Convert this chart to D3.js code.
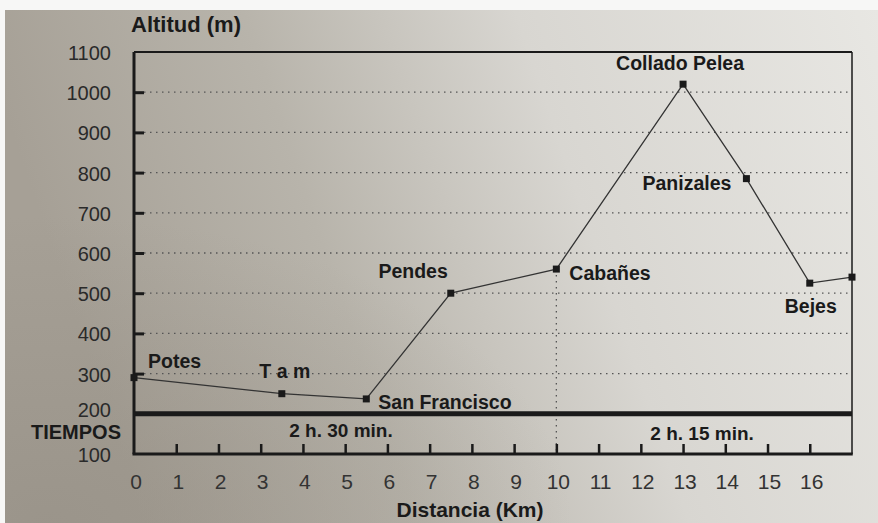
<!DOCTYPE html>
<html><head><meta charset="utf-8">
<script src="https://cdn.jsdelivr.net/npm/d3@7"></script>
<style>body{margin:0;padding:0;overflow:hidden}svg{display:block}text{font-family:"Liberation Sans",Arial,sans-serif}</style>
</head><body>
<script>
const places = ["Potes","T a m","San Francisco","Pendes","Cabañes","Collado Pelea","Panizales","Bejes",""];
const distKm = [0,3.5,5.5,7.5,10,13,14.5,16,17];
const altitude = [290,250,237,500,560,1020,785,525,540];
const yTicks = [100,200,300,400,500,600,700,800,900,1000,1100];
const xTicks = [0,1,2,3,4,5,6,7,8,9,10,11,12,13,14,15,16];
const times = ["2 h. 30 min.","2 h. 15 min."];
const timeAtKm = [4.9,13.45];

const W=878,H=523;
const svg=d3.select("body").append("svg").attr("width",W).attr("height",H);
const defs=svg.append("defs");
const g1=defs.append("linearGradient").attr("id","bg").attr("x1","0").attr("x2","1").attr("y1","0.2").attr("y2","0");
[[0,"#a6a096"],[0.3,"#b8b4ab"],[0.6,"#d8d6d1"],[1,"#e8e7e3"]].forEach(s=>g1.append("stop").attr("offset",s[0]).attr("stop-color",s[1]));
const g2=defs.append("radialGradient").attr("id","shade").attr("cx","0.05").attr("cy","1").attr("r","0.6");
g2.append("stop").attr("offset",0).attr("stop-color","#8f897f").attr("stop-opacity",0.5);
g2.append("stop").attr("offset",1).attr("stop-color","#8f897f").attr("stop-opacity",0);
svg.append("rect").attr("width",W).attr("height",H).attr("fill","#f7f7f6");
svg.append("rect").attr("x",5).attr("y",10).attr("width",W-5).attr("height",H-10).attr("fill","url(#bg)");
svg.append("rect").attr("x",5).attr("y",10).attr("width",W-5).attr("height",H-10).attr("fill","url(#shade)");

const x=d3.scaleLinear().domain([0,17]).range([134,852]);
const y=d3.scaleLinear().domain([100,1100]).range([454,52]);
const ink="#1a1a1a";

// dotted gridlines
svg.append("g").selectAll("line").data(yTicks.filter(v=>v>=300&&v<=1000)).join("line")
 .attr("x1",x(0)+10).attr("x2",x(17)).attr("y1",d=>y(d)).attr("y2",d=>y(d))
 .attr("stroke","#555").attr("stroke-width",1.3).attr("stroke-dasharray","1.5,4.5");
// vertical dotted line at 10 km
svg.append("line").attr("x1",x(10)).attr("x2",x(10)).attr("y1",y(560)).attr("y2",y(100))
 .attr("stroke","#555").attr("stroke-width",1.3).attr("stroke-dasharray","1.5,4.5");

// left axis
const yAxis=d3.axisRight(y).tickValues(yTicks.filter(v=>v>=300&&v<=1000)).tickSize(10).tickFormat("");
const ya=svg.append("g").attr("transform",`translate(${x(0)},0)`).call(yAxis);
ya.select(".domain").remove();
ya.selectAll("line").attr("stroke",ink).attr("stroke-width",3);
svg.append("line").attr("x1",x(0)).attr("x2",x(0)).attr("y1",y(1100)).attr("y2",y(100)).attr("stroke",ink).attr("stroke-width",3);
// y labels
const labelDy = v => v===200 ? 3 : v===100 ? 8 : 8;
svg.append("g").selectAll("text").data(yTicks).join("text")
 .attr("x",111).attr("y",d=>y(d)+labelDy(d)).attr("text-anchor","end").attr("font-size",20).attr("fill","#2a2a2a").text(d=>d);

// frame top, right
svg.append("line").attr("x1",x(0)).attr("x2",x(17)).attr("y1",y(1100)).attr("y2",y(1100)).attr("stroke",ink).attr("stroke-width",2);
svg.append("line").attr("x1",x(17)).attr("x2",x(17)).attr("y1",y(1100)).attr("y2",y(100)).attr("stroke",ink).attr("stroke-width",1.5);
// thick 200 line
svg.append("line").attr("x1",x(0)).attr("x2",x(17)).attr("y1",y(200)).attr("y2",y(200)).attr("stroke",ink).attr("stroke-width",5);

// bottom axis
const xAxis=d3.axisTop(x).tickValues(xTicks.slice(1)).tickSize(10).tickFormat("");
const xa=svg.append("g").attr("transform",`translate(0,${y(100)})`).call(xAxis);
xa.select(".domain").remove();
xa.selectAll("line").attr("stroke",ink).attr("stroke-width",2.5);
svg.append("line").attr("x1",x(0)-1.5).attr("x2",x(17)+0.75).attr("y1",y(100)).attr("y2",y(100)).attr("stroke",ink).attr("stroke-width",3);
svg.append("g").selectAll("text").data(xTicks).join("text")
 .attr("x",d=>x(d)+2).attr("y",489).attr("text-anchor","middle").attr("font-size",21).attr("fill","#333").text(d=>d);

// titles
svg.append("text").attr("x",131).attr("y",32).attr("font-size",22).attr("font-weight","bold").attr("fill",ink).text("Altitud (m)");
svg.append("text").attr("x",121).attr("y",439).attr("text-anchor","end").attr("font-size",20).attr("font-weight","bold").attr("fill",ink).text("TIEMPOS");
svg.append("text").attr("x",470).attr("y",517).attr("text-anchor","middle").attr("font-size",21).attr("font-weight","bold").attr("fill",ink).text("Distancia (Km)");
svg.append("g").selectAll("text").data(times).join("text")
 .attr("x",(d,i)=>x(timeAtKm[i])).attr("y",(d,i)=>i===0?437:440).attr("text-anchor","middle")
 .attr("font-size",19).attr("font-weight","bold").attr("fill",ink).text(d=>d);

// profile line
const pts=distKm.map((d,i)=>({km:d,alt:altitude[i],name:places[i]}));
svg.append("path").datum(pts).attr("fill","none").attr("stroke","#333").attr("stroke-width",1.3)
 .attr("d",d3.line().x(d=>x(d.km)).y(d=>y(d.alt)));
svg.append("g").selectAll("rect").data(pts).join("rect")
 .attr("x",d=>x(d.km)-3.5).attr("y",d=>y(d.alt)-3.5).attr("width",7).attr("height",7).attr("fill",ink);

// place labels
const off={"Potes":[14,-10,"start"],"T a m":[3,-16,"middle"],"San Francisco":[12,10,"start"],"Pendes":[-3,-15,"end"],
 "Cabañes":[13,11,"start"],"Collado Pelea":[-3,-14,"middle"],"Panizales":[-15,11,"end"],"Bejes":[1,30,"middle"]};
svg.append("g").selectAll("text").data(pts.filter(d=>d.name)).join("text")
 .attr("x",d=>x(d.km)+off[d.name][0]).attr("y",d=>y(d.alt)+off[d.name][1]).attr("text-anchor",d=>off[d.name][2])
 .attr("font-size",19.5).attr("font-weight","bold").attr("fill",ink).text(d=>d.name);
</script>
</body></html>
